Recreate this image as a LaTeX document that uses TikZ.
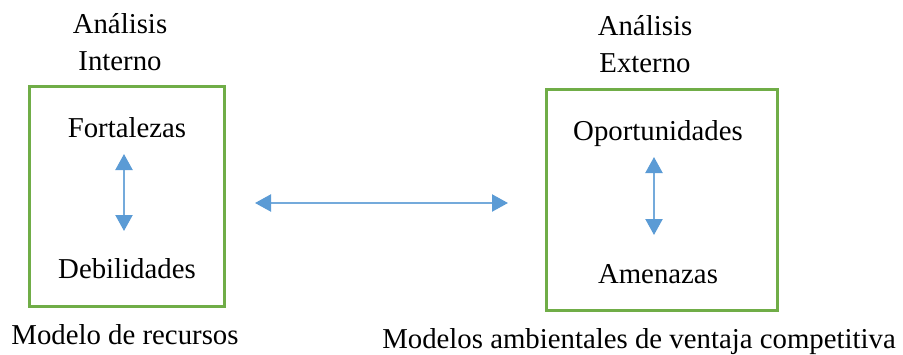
\documentclass[tikz,border=0pt]{standalone}
\usepackage{fontspec}
\setmainfont{Liberation Serif}
\usetikzlibrary{arrows.meta}
\definecolor{boxgreen}{HTML}{70AD47}
\definecolor{arrowblue}{HTML}{5B9BD5}
\begin{document}
\begin{tikzpicture}[x=1pt,y=-1pt,
  lbl/.style={anchor=base,inner sep=0pt,font=\fontsize{28.8}{34}\selectfont},
  frame/.style={draw=boxgreen,line width=3pt},
  link/.style={draw=arrowblue!85,line width=2.2pt,{Triangle[width=17pt,length=16pt,color=arrowblue]}-{Triangle[width=17pt,length=16pt,color=arrowblue]}}]
\useasboundingbox (0,0) rectangle (903,354);
% internal analysis
\node[lbl] (ai1) at (120,33) {Análisis};
\node[lbl] (ai2) at (120,70) {Interno};
\node[frame,minimum width=195pt,minimum height=220pt,inner sep=0pt] (bi) at (126.5,196) {};
\node[lbl] (fo) at (127,137) {Fortalezas};
\node[lbl] (de) at (127,278) {Debilidades};
\coordinate (fo1) at (124,154);
\coordinate (de1) at (124,231);
\draw[link] (fo1) -- (de1);
\node[lbl] (mr) at (125,344) {Modelo de recursos};
% external analysis
\node[lbl] (ae1) at (645,35) {Análisis};
\node[lbl] (ae2) at (645,72) {Externo};
\node[frame,minimum width=231pt,minimum height=221pt,inner sep=0pt] (be) at (661.5,199.5) {};
\node[lbl] (op) at (658,140) {Oportunidades};
\node[lbl] (am) at (658,283) {Amenazas};
\coordinate (op1) at (654,157);
\coordinate (am1) at (654,235);
\draw[link] (op1) -- (am1);
\node[lbl] (ma) at (639,348) {Modelos ambientales de ventaja competitiva};
% link between both analyses
\coordinate (hl) at (255,203);
\coordinate (hr) at (508,203);
\draw[link] (hl) -- (hr);
\end{tikzpicture}
\end{document}
